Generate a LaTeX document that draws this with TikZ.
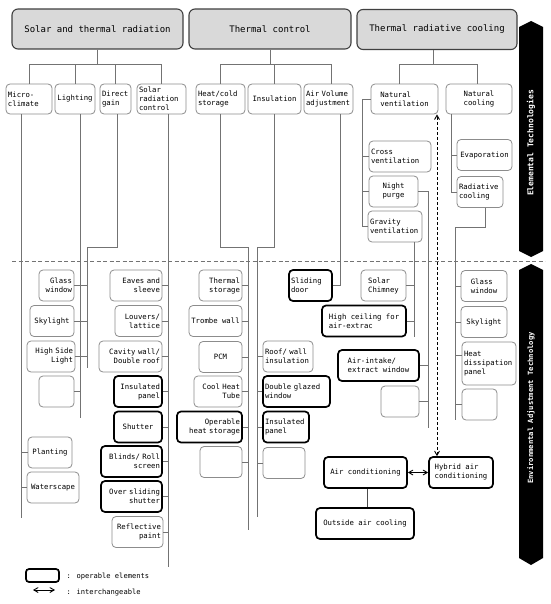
\documentclass[tikz,border=0pt]{standalone}
\usepackage{fontspec}
\newfontfamily\boxfont{DejaVu Sans Mono}
\usetikzlibrary{arrows}

\begin{document}
\begin{tikzpicture}[x=1pt,y=-1pt]
  \tikzset{head/.style = {shape=rectangle, draw=black!75, fill=black!15, line width=1.1pt, rounded corners=6pt, minimum height=40pt, font=\boxfont\fontsize{9}{11}\selectfont}}
  \tikzset{elem/.style = {shape=rectangle, draw=black!45, line width=0.8pt, rounded corners=4pt, inner xsep=2pt, inner ysep=1pt, minimum height=31pt, font=\boxfont\fontsize{7.3}{9}\selectfont}}
  \tikzset{oper/.style = {elem, draw=black, line width=1.7pt}}
  \tikzset{link/.style = {draw=black!55, line width=0.8pt}}
  \tikzset{edge/.style = {<->, > = angle 60, line width=0.9pt}}
  \tikzset{bartext/.style = {rotate=90, text=white, font=\boxfont\bfseries\fontsize{8}{10}\selectfont}}

  \useasboundingbox (0,0) rectangle (550,604);

  % headings
  \node[head, minimum width=171pt] (solar) at (97.5,29) {Solar and thermal radiation};
  \node[head, minimum width=162pt] (thermal) at (270,29) {Thermal control};
  \node[head, minimum width=160pt] (cooling) at (437,29.5) {Thermal radiative cooling};

  % elemental technologies
  \node[elem, minimum height=30pt, text width=42pt, align=left] (micro) at (29,99) {Micro-\\climate};
  \node[elem, minimum height=30pt, text width=36pt, align=center] (light) at (75,99) {Lighting};
  \node[elem, minimum height=30pt, text width=27pt, align=left] (direct) at (115.5,99) {Direct\\gain};
  \node[elem, minimum height=30pt, text width=45pt, align=left] (solarctl) at (161.5,99) {Solar\\radiation\\control};
  \node[elem, minimum height=30pt, text width=45pt, align=left] (heatcold) at (220.5,99) {Heat/cold\\storage};
  \node[elem, minimum height=30pt, text width=49pt, align=center] (insul) at (274.5,99) {Insulation};
  \node[elem, minimum height=30pt, text width=45pt, align=left] (airvol) at (328.5,99) {Air Volume\\adjustment};
  \node[elem, minimum height=30pt, minimum width=67pt, align=left] (natvent) at (404.5,99) {Natural\\ventilation};
  \node[elem, minimum height=30pt, minimum width=66pt, align=left] (natcool) at (479,99) {Natural\\cooling};

  \node[elem, text width=58pt, align=left] (cross) at (400,156.5) {Cross\\ventilation};
  \node[elem, minimum width=49pt, align=left] (night) at (393.5,191.5) {Night\\purge};
  \node[elem, text width=50pt, align=left] (gravity) at (395,226.5) {Gravity\\ventilation};
  \node[elem, minimum width=55pt] (evap) at (484.5,155) {Evaporation};
  \node[elem, text width=42pt, align=left] (radcool) at (480,192) {Radiative\\cooling};

  % environmental adjustment technology
  \node[elem, text width=31pt, align=right] (glass) at (56.5,285.5) {Glass\\window};
  \node[elem, minimum width=44pt] (sky) at (52,321) {Skylight};
  \node[elem, text width=44pt, align=right] (sidelight) at (51,356.5) {High Side\\Light};
  \node[elem, minimum width=35pt] (blank1) at (56.5,391.5) {};
  \node[elem, minimum width=44pt] (planting) at (50,452.5) {Planting};
  \node[elem, minimum width=52pt] (water) at (53,487.5) {Waterscape};

  \node[elem, text width=48pt, align=right] (eaves) at (136,285.5) {Eaves and\\sleeve};
  \node[elem, text width=43pt, align=right] (louvers) at (138.5,321) {Louvers/\\lattice};
  \node[elem, text width=59pt, align=right] (cavity) at (130.5,356.5) {Cavity wall/\\Double roof};
  \node[oper, text width=44pt, align=right] (panel) at (138,391.5) {Insulated\\panel};
  \node[oper, minimum width=48pt] (shutter) at (138,427) {Shutter};
  \node[oper, text width=57pt, align=right] (blinds) at (131.5,461.5) {Blinds/ Roll\\screen};
  \node[oper, text width=57pt, align=right] (oversl) at (131.5,496.5) {Over sliding\\shutter};
  \node[elem, text width=47pt, align=right] (reflect) at (137.5,532) {Reflective\\paint};

  \node[elem, text width=39pt, align=right] (thstor) at (220.5,285.5) {Thermal\\storage};
  \node[elem, minimum width=53pt] (trombe) at (215.5,321) {Trombe wall};
  \node[elem, minimum width=43pt] (pcm) at (220.5,357) {PCM};
  \node[elem, text width=44pt, align=right] (coolheat) at (218,391.5) {Cool Heat\\Tube};
  \node[oper, text width=61pt, align=right] (opheat) at (209.5,427) {Operable\\heat storage};
  \node[elem, minimum width=42pt] (blank2) at (221,462) {};

  \node[elem, text width=46pt, align=left] (roofwall) at (288,356.5) {Roof/ wall\\insulation};
  \node[oper, text width=63pt, align=left] (dblglz) at (296.5,391.5) {Double glazed\\window};
  \node[oper, text width=42pt, align=left] (panel2) at (286,427) {Insulated\\panel};
  \node[elem, minimum width=42pt] (blank3) at (284,463) {};

  \node[oper, text width=39pt, align=left] (sliding) at (310.5,285.5) {Sliding\\door};
  \node[elem, minimum width=45pt, align=left] (chimney) at (383.5,285.5) {Solar\\Chimney};
  \node[oper, minimum width=84pt, align=left] (ceiling) at (364,321) {High ceiling for\\air-extrac};
  \node[oper, minimum width=81pt, align=left] (intake) at (378.5,365.5) {Air-intake/\\extract window};
  \node[elem, minimum width=38pt] (blank4) at (400,401.5) {};

  \node[elem, minimum width=46pt, align=left] (glass2) at (484,286) {Glass\\window};
  \node[elem, minimum width=46pt] (sky2) at (484,322) {Skylight};
  \node[elem, text width=50pt, align=left, minimum height=43pt] (dissip) at (489,363.5) {Heat\\dissipation\\panel};
  \node[elem, minimum width=35pt] (blank5) at (479.5,404.5) {};

  \node[oper, minimum width=83pt] (aircon) at (365.5,472.5) {Air conditioning};
  \node[oper, minimum width=64pt, align=left] (hybrid) at (461,472.5) {Hybrid air\\conditioning};
  \node[oper, minimum width=98pt] (outside) at (365,523.5) {Outside air cooling};

  % tree links
  \draw[link] (solar.south) -- ++(0,15) -| (micro.north);
  \draw[link] (solar.south) -- ++(0,15) -| (light.north);
  \draw[link] (solar.south) -- ++(0,15) -| (direct.north);
  \draw[link] (solar.south) -- ++(0,15) -| (solarctl.north);
  \draw[link] (thermal.south) -- ++(0,15) -| (heatcold.north);
  \draw[link] (thermal.south) -- ++(0,15) -| (insul.north);
  \draw[link] (thermal.south) -- ++(0,15) -| ([xshift=3pt]airvol.north);
  \draw[link] ([xshift=-4pt]cooling.south) -- ++(0,14.5) -| ([xshift=-5pt]natvent.north);
  \draw[link] ([xshift=-4pt]cooling.south) -- ++(0,14.5) -| ([xshift=-2pt]natcool.north);

  \coordinate (mend) at (21,518);
  \coordinate (lend) at (80,418);
  \coordinate (djog) at (87,247);
  \coordinate (dend) at (87,368);
  \coordinate (send) at (168,567);
  \coordinate (hjog) at (248,247);
  \coordinate (hend) at (248,530);
  \coordinate (ijog) at (257,247);
  \coordinate (iend) at (257,517);
  \coordinate (ajog) at (340,285.5);
  \coordinate (vbus) at (362,226.5);
  \coordinate (nend) at (428,428);
  \coordinate (gend) at (414,337);
  \coordinate (cbus) at (451,192);
  \coordinate (rjog) at (455,227);
  \coordinate (rend) at (455,420);
  \coordinate (dcol) at (437,0);

  \draw[link] (micro.south -| mend) -- (mend);
  \draw[link] (planting.west) -- (planting.west -| mend);
  \draw[link] (water.west) -- (water.west -| mend);

  \draw[link] (light.south -| lend) -- (lend);
  \draw[link] ([xshift=1.5pt]direct.south) |- (djog) -- (dend);
  \draw[link] (glass.east) -- (glass.east -| dend);
  \draw[link] (sky.east) -- (sky.east -| dend);
  \draw[link] (sidelight.east) -- (sidelight.east -| dend);
  \draw[link] (blank1.east) -- (blank1.east -| lend);

  \draw[link] (solarctl.south -| send) -- (send);
  \draw[link] (eaves.east) -- (eaves.east -| send);
  \draw[link] (louvers.east) -- (louvers.east -| send);
  \draw[link] (cavity.east) -- (cavity.east -| send);
  \draw[link] (panel.east) -- (panel.east -| send);
  \draw[link] (shutter.east) -- (shutter.east -| send);
  \draw[link] (blinds.east) -- (blinds.east -| send);
  \draw[link] (oversl.east) -- (oversl.east -| send);
  \draw[link] (reflect.east) -- (reflect.east -| send);

  \draw[link] (heatcold.south) |- (hjog) -- (hend);
  \draw[link] (thstor.east) -- (thstor.east -| hend);
  \draw[link] (trombe.east) -- (trombe.east -| hend);
  \draw[link] (pcm.east) -- (pcm.east -| hend);
  \draw[link] (coolheat.east) -- (coolheat.east -| hend);
  \draw[link] (opheat.east) -- (opheat.east -| hend);
  \draw[link] (blank2.east) -- (blank2.east -| hend);

  \draw[link] (insul.south) |- (ijog) -- (iend);
  \draw[link] (roofwall.west) -- (roofwall.west -| iend);
  \draw[link] (dblglz.west) -- (dblglz.west -| iend);
  \draw[link] (panel2.west) -- (panel2.west -| iend);
  \draw[link] (blank3.west) -- (blank3.west -| iend);

  \draw[link] (airvol.south -| ajog) -- (ajog) -- (sliding.east);

  \draw[link] (natvent.west) -| (vbus);
  \draw[link] (cross.west) -- (cross.west -| vbus);
  \draw[link] (night.west) -- (night.west -| vbus);
  \draw[link] (gravity.west) -- (gravity.west -| vbus);

  \draw[link] (night.east) -| (nend);
  \draw[link] (intake.east) -- (intake.east -| nend);
  \draw[link] (blank4.east) -- (blank4.east -| nend);
  \draw[link] (gravity.south -| gend) -- (gend);
  \draw[link] (chimney.east) -- (chimney.east -| gend);
  \draw[link] (ceiling.east) -- (ceiling.east -| gend);

  \draw[link] (natcool.south -| cbus) -- (cbus);
  \draw[link] (evap.west) -- (evap.west -| cbus);
  \draw[link] (radcool.west) -- (radcool.west -| cbus);
  \draw[link] ([xshift=5pt]radcool.south) |- (rjog) -- (rend);
  \draw[link] (glass2.west) -- (glass2.west -| rend);
  \draw[link] (sky2.west) -- (sky2.west -| rend);
  \draw[link] ([yshift=8pt]dissip.west) -- ([yshift=8pt]dissip.west -| rend);
  \draw[link] (blank5.west) -- (blank5.west -| rend);

  \draw[edge, dash pattern=on 3pt off 2pt] (hybrid.north -| dcol) -- (natvent.south -| dcol);
  \draw[edge] (aircon.east) -- (hybrid.west);
  \draw[link, draw=black!70] ([xshift=1.5pt]aircon.south) -- ([xshift=2pt]outside.north);

  % divider and side bars
  \coordinate (dl) at (12,261);
  \coordinate (dr) at (545,261);
  \draw[link, dash pattern=on 4pt off 2.5pt] (dl) -- (dr);

  \fill[black] (519,27) -- (531,21) -- (543,27) -- (543,251) -- (531,257) -- (519,251) -- cycle;
  \node[bartext] (eltech) at (531,143) {Elemental Technologies};
  \fill[black] (519,270) -- (531,264) -- (543,270) -- (543,558) -- (531,565) -- (519,558) -- cycle;
  \node[bartext, font=\boxfont\bfseries\fontsize{7.2}{9}\selectfont] (envtech) at (531,408) {Environmental Adjustment Technology};

  % legend
  \node[oper, minimum width=33pt, minimum height=13pt, rounded corners=3pt] (legbox) at (42.5,575.5) {};
  \node[anchor=west, font=\boxfont\fontsize{7.1}{9}\selectfont] (legop) at (63,577) {: operable elements};
  \coordinate (legl) at (33,590);
  \coordinate (legr) at (55,590);
  \draw[edge] (legl) -- (legr);
  \node[anchor=west, font=\boxfont\fontsize{7.1}{9}\selectfont] (legint) at (63,593) {: interchangeable};
\end{tikzpicture}
\end{document}
